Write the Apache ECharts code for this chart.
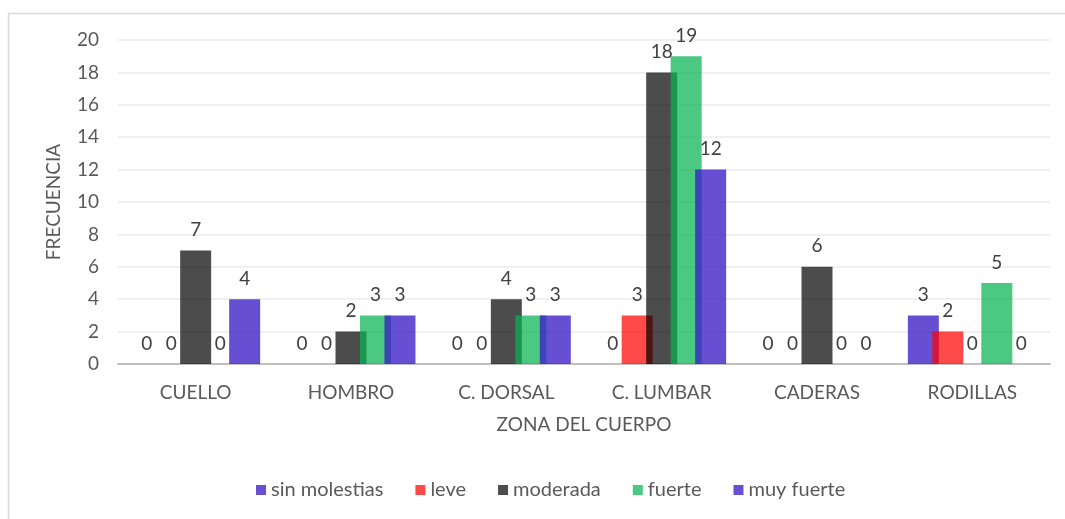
<!DOCTYPE html>
<html>
<head>
<meta charset="utf-8">
<script src="https://cdn.jsdelivr.net/npm/echarts@6/dist/echarts.min.js"></script>
<style>
  html, body { margin: 0; padding: 0; background: #fff; }
  #chart { width: 1065px; height: 519px; }
</style>
</head>
<body>
<div id="chart"></div>
<script>
// Body zones and frequency of discomfort per intensity level
const zonas = ['CUELLO', 'HOMBRO', 'C. DORSAL', 'C. LUMBAR', 'CADERAS', 'RODILLAS'];
const sinMolestias = [0, 0, 0, 0, 0, 3];
const leve         = [0, 0, 0, 3, 0, 2];
const moderada     = [7, 2, 4, 18, 6, 0];
const fuerte       = [0, 3, 3, 19, 0, 5];
const muyFuerte    = [4, 3, 3, 12, 0, 0];

const FONT = 'Lato, "Open Sans", sans-serif';
const TEXT = '#595959';

const colores = {
  sin: 'rgba(60,30,200,0.78)',
  leve: 'rgba(255,0,0,0.71)',
  mod: 'rgba(0,0,0,0.70)',
  fue: 'rgba(6,179,81,0.72)',
  muy: 'rgba(60,30,200,0.78)'
};

function serie(nombre, datos, color) {
  return {
    name: nombre,
    type: 'bar',
    data: datos,
    barWidth: 31,
    barGap: '-21%',
    itemStyle: { color: color },
    label: {
      show: true,
      position: 'top',
      distance: 11,
      fontFamily: FONT,
      fontSize: 19,
      color: '#404040'
    }
  };
}

const chart = echarts.init(document.getElementById('chart'));
chart.setOption({
  animation: false,
  backgroundColor: '#fff',
  grid: { left: 118, right: 15, top: 40, bottom: 155 },
  legend: {
    bottom: 14,
    left: 251,
    itemWidth: 10,
    itemHeight: 10,
    itemGap: 32,
    icon: 'rect',
    textStyle: { fontFamily: FONT, fontSize: 20, color: TEXT },
    data: ['sin molestias', 'leve', 'moderada', 'fuerte', 'muy fuerte']
  },
  xAxis: {
    type: 'category',
    data: zonas,
    name: 'ZONA DEL CUERPO',
    nameLocation: 'middle',
    nameGap: 51,
    nameTextStyle: { fontFamily: FONT, fontSize: 19, color: TEXT },
    axisLine: { lineStyle: { color: '#bfbfbf', width: 2 } },
    axisTick: { show: false },
    axisLabel: { margin: 19, fontFamily: FONT, fontSize: 19, color: TEXT }
  },
  yAxis: {
    type: 'value',
    min: 0,
    max: 20,
    interval: 2,
    name: 'FRECUENCIA',
    nameLocation: 'middle',
    nameGap: 55,
    nameTextStyle: { fontFamily: FONT, fontSize: 19, color: TEXT },
    axisLine: { show: false },
    axisTick: { show: false },
    axisLabel: { margin: 19, fontFamily: FONT, fontSize: 19, color: TEXT },
    splitLine: { lineStyle: { color: '#ebebeb', width: 1.5 } }
  },
  graphic: [
    { type: 'line', shape: { x1: 8, y1: 13.5, x2: 1065, y2: 13.5 }, style: { stroke: '#d9d9d9', lineWidth: 1.5 } },
    { type: 'line', shape: { x1: 8.5, y1: 13, x2: 8.5, y2: 519 }, style: { stroke: '#d9d9d9', lineWidth: 1.5 } }
  ],
  series: [
    serie('sin molestias', sinMolestias, colores.sin),
    serie('leve', leve, colores.leve),
    serie('moderada', moderada, colores.mod),
    serie('fuerte', fuerte, colores.fue),
    serie('muy fuerte', muyFuerte, colores.muy)
  ]
});
</script>
</body>
</html>
